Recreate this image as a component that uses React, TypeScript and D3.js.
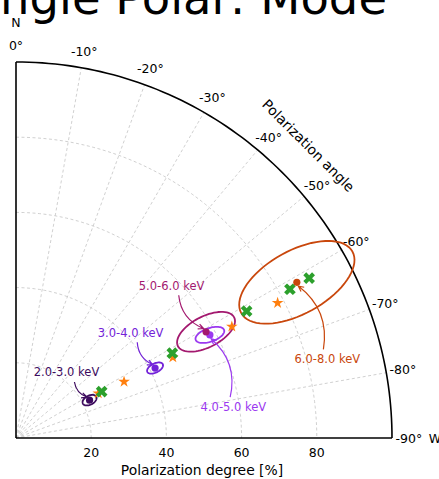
import React, { useEffect, useRef } from 'react';
import * as d3 from 'd3';

// energy bands (measured points + error ellipses)
const bands = ['2.0-3.0 keV', '3.0-4.0 keV', '4.0-5.0 keV', '5.0-6.0 keV', '6.0-8.0 keV'];
const bandColors = ['#3d0b5e', '#7322d8', '#9b38f0', '#a3196f', '#c9470c'];
const bandPD = [22.0, 41.4, 58.4, 57.9, 85.4];
const bandPA = [-62.8, -63.3, -62.0, -60.8, -61.0];
// ellipse semi-axes (% units): along radial direction, across it; tilt in degrees
const ellRadial = [2.0, 2.3, 4.0, 8.4, 16.9];
const ellAcross = [1.2, 1.2, 1.8, 4.1, 8.4];
const ellTilt = [0, 0, 9, 2, 0];
// where each label sits (same PD, shifted angle)
const labelPA = [-37.6, -47.4, -81.9, -45.6, -75.8];

// model predictions
const starPD = [24.9, 32.4, 46.9, 64.6, 78.3];
const starPA = [-61.5, -62.5, -62.8, -62.7, -62.7];
const crossPD = [25.9, 47.3, 70.0, 82.9, 88.8];
const crossPA = [-61.6, -61.5, -61.2, -61.5, -61.4];

const radialTicks = [20, 40, 60, 80];
const angleTicks = [0, -10, -20, -30, -40, -50, -60, -70, -80, -90];

const W = 439;
const H = 479;
const ox = 16;
const oy = 438;
const R = 376;
const font = 'DejaVu Sans, sans-serif';

export default function App() {
  const svgRef = useRef<SVGSVGElement>(null);

  useEffect(() => {
    const svg = d3.select(svgRef.current);
    svg.selectAll('*').remove();

    const rScale = d3.scaleLinear().domain([0, 100]).range([0, R]);
    const aScale = d3.scaleLinear().domain([0, -90]).range([0, Math.PI / 2]);
    const pt = (pd: number, pa: number) => d3.pointRadial(aScale(pa), rScale(pd));

    // title (partly cut off by the top edge)
    svg.append('text')
      .attr('x', 387).attr('y', 13.5)
      .attr('text-anchor', 'end')
      .attr('font-size', 46.5)
      .attr('font-family', font)
      .text('Single Polar: Mode');

    const g = svg.append('g').attr('transform', `translate(${ox},${oy})`);

    // grid
    const grid = g.append('g')
      .attr('fill', 'none')
      .attr('stroke', '#c4c4c4')
      .attr('stroke-width', 0.8)
      .attr('stroke-dasharray', '3,2.5');
    angleTicks.slice(1, -1).forEach(a => {
      const [x, y] = pt(100, a);
      grid.append('line').attr('x1', 0).attr('y1', 0).attr('x2', x).attr('y2', y);
    });
    const degs = d3.range(0, -90.5, -1);
    radialTicks.forEach(t => {
      grid.append('path')
        .attr('d', d3.lineRadial<number>().angle(d => aScale(d)).radius(rScale(t))(degs));
    });

    // spines
    const sp = g.append('g').attr('fill', 'none').attr('stroke', '#000').attr('stroke-width', 1.6);
    sp.append('path').attr('d', d3.lineRadial<number>().angle(d => aScale(d)).radius(rScale(100))(degs));
    sp.append('line').attr('x1', 0).attr('y1', 0).attr('x2', 0).attr('y2', -rScale(100));
    sp.append('line').attr('x1', 0).attr('y1', 0).attr('x2', rScale(100)).attr('y2', 0);

    // angle labels
    angleTicks.forEach(a => {
      const [x, y] = pt(104.5, a);
      g.append('text')
        .attr('x', x).attr('y', y)
        .attr('text-anchor', 'middle').attr('dominant-baseline', 'central')
        .attr('font-size', 12.5).attr('font-family', font)
        .text(`${a}°`);
    });
    const [nx, ny] = pt(110.4, 0);
    g.append('text').attr('x', nx).attr('y', ny)
      .attr('text-anchor', 'middle').attr('dominant-baseline', 'central')
      .attr('font-size', 12.5).attr('font-family', font).text('N');
    const [wx, wy] = pt(111.4, -90);
    g.append('text').attr('x', wx).attr('y', wy)
      .attr('text-anchor', 'middle').attr('dominant-baseline', 'central')
      .attr('font-size', 12.5).attr('font-family', font).text('W');
    const [px, py] = pt(110, -45);
    g.append('text')
      .attr('transform', `translate(${px},${py}) rotate(45)`)
      .attr('text-anchor', 'middle').attr('dominant-baseline', 'central')
      .attr('font-size', 13.9).attr('font-family', font)
      .text('Polarization angle');

    // radial tick labels + axis label
    radialTicks.forEach(t => {
      g.append('text')
        .attr('x', rScale(t)).attr('y', 14)
        .attr('text-anchor', 'middle').attr('dominant-baseline', 'central')
        .attr('font-size', 12.5).attr('font-family', font)
        .text(t);
    });
    g.append('text')
      .attr('x', rScale(50) - 2).attr('y', 32)
      .attr('text-anchor', 'middle').attr('dominant-baseline', 'central')
      .attr('font-size', 13.9).attr('font-family', font)
      .text('Polarization degree [%]');

    // ellipses
    const closed = d3.line().curve(d3.curveLinearClosed);
    bands.forEach((b, i) => {
      const [cx, cy] = pt(bandPD[i], bandPA[i]);
      const a = aScale(bandPA[i]) + (ellTilt[i] * Math.PI) / 180;
      const u = [Math.sin(a), -Math.cos(a)];
      const v = [Math.cos(a), Math.sin(a)];
      const ra = rScale(ellRadial[i]);
      const rb = rScale(ellAcross[i]);
      const pts = d3.range(0, 72).map(k => {
        const t = (k / 72) * 2 * Math.PI;
        return [
          cx + ra * Math.cos(t) * u[0] + rb * Math.sin(t) * v[0],
          cy + ra * Math.cos(t) * u[1] + rb * Math.sin(t) * v[1],
        ] as [number, number];
      });
      g.append('path')
        .attr('d', closed(pts))
        .attr('fill', 'none')
        .attr('stroke', bandColors[i])
        .attr('stroke-width', 1.8);
    });

    // model stars
    const star = d3.symbol().type(d3.symbolStar).size(42);
    starPD.forEach((d, i) => {
      const [x, y] = pt(d, starPA[i]);
      g.append('path')
        .attr('d', star())
        .attr('transform', `translate(${x},${y})`)
        .attr('fill', '#ff7f0e');
    });

    // model crosses (filled X)
    const w = 1 / 3;
    const plus = [[w, 1], [w, w], [1, w], [1, -w], [w, -w], [w, -1], [-w, -1], [-w, -w], [-1, -w], [-1, w], [-w, w], [-w, 1]];
    const sz = 6.2;
    const xPath = 'M' + plus.map(([a, b]) => {
      const c = Math.SQRT1_2;
      return [(a * c - b * c) * sz, (a * c + b * c) * sz].map(n => n.toFixed(2)).join(',');
    }).join('L') + 'Z';
    crossPD.forEach((d, i) => {
      const [x, y] = pt(d, crossPA[i]);
      g.append('path')
        .attr('d', xPath)
        .attr('transform', `translate(${x},${y})`)
        .attr('fill', '#2ca02c');
    });

    // measured points
    bands.forEach((b, i) => {
      const [x, y] = pt(bandPD[i], bandPA[i]);
      g.append('circle').attr('cx', x).attr('cy', y).attr('r', 3.6).attr('fill', bandColors[i]);
    });

    // annotations with curved arrows
    const rad = 0.3;
    bands.forEach((b, i) => {
      const [lx, ly] = pt(bandPD[i], labelPA[i]);
      const [tx, ty] = pt(bandPD[i], bandPA[i]);
      g.append('text')
        .attr('x', lx).attr('y', ly)
        .attr('text-anchor', 'middle').attr('dominant-baseline', 'central')
        .attr('font-size', 11.5).attr('font-family', font)
        .attr('fill', bandColors[i])
        .text(b);
      const dx = tx - lx;
      const dy = ty - ly;
      const len = Math.hypot(dx, dy);
      const hw = 35;
      const hh = 8;
      const s = Math.min(hw / Math.abs(dx || 1e-6), hh / Math.abs(dy || 1e-6));
      const x1 = lx + dx * s + (dx / len) * 2;
      const y1 = ly + dy * s + (dy / len) * 2;
      const x2 = tx - (dx / len) * 4;
      const y2 = ty - (dy / len) * 4;
      const ddx = x2 - x1;
      const ddy = y2 - y1;
      const qx = (x1 + x2) / 2 - rad * ddy;
      const qy = (y1 + y2) / 2 + rad * ddx;
      const p = d3.path();
      p.moveTo(x1, y1);
      p.quadraticCurveTo(qx, qy, x2, y2);
      const ang = Math.atan2(y2 - qy, x2 - qx);
      const hl = 6;
      const spread = 0.45;
      p.moveTo(x2 - hl * Math.cos(ang - spread), y2 - hl * Math.sin(ang - spread));
      p.lineTo(x2, y2);
      p.lineTo(x2 - hl * Math.cos(ang + spread), y2 - hl * Math.sin(ang + spread));
      g.append('path')
        .attr('d', p.toString())
        .attr('fill', 'none')
        .attr('stroke', bandColors[i])
        .attr('stroke-width', 1.2);
    });
  }, []);

  return (
    <svg
      ref={svgRef}
      width={W}
      height={H}
      style={{ position: 'absolute', left: 0, top: 0, background: '#fff' }}
    />
  );
}
